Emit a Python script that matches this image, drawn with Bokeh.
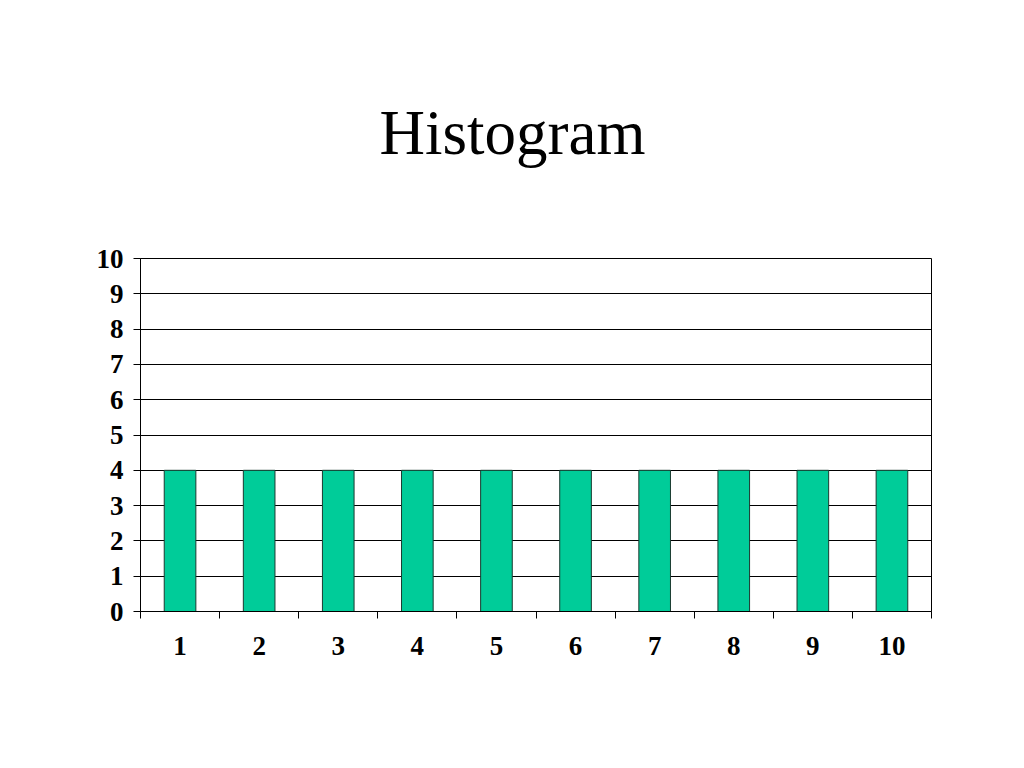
from bokeh.plotting import figure
from bokeh.models import FixedTicker, Range1d
from bokeh.embed import file_html
from bokeh.resources import INLINE

categories = [1, 2, 3, 4, 5, 6, 7, 8, 9, 10]
counts = [4, 4, 4, 4, 4, 4, 4, 4, 4, 4]
y_ticks = [0, 1, 2, 3, 4, 5, 6, 7, 8, 9, 10]
title_text = "Histogram"

p = figure(width=1008, height=752, output_backend="svg", toolbar_location=None,
           x_range=Range1d(0.5, 10.5), y_range=Range1d(0, 10),
           min_border_left=140, min_border_top=258, min_border_right=77, min_border_bottom=141)

p.vbar(x=categories, top=counts, width=0.4, bottom=0,
       fill_color="#00CC99", line_color="#1a3a30", line_width=1)

p.title.text = title_text
p.title.text_font = "Liberation Serif"
p.title.text_font_size = "63px"
p.title.text_font_style = "normal"
p.title.align = "left"
p.title.standoff = 181
p.title.offset = 239
p.title.text_color = "black"

# x axis
xa = p.xaxis[0]
xa.ticker = FixedTicker(ticks=categories, minor_ticks=[c - 0.5 for c in categories] + [10.5])
xa.major_tick_out = 0
xa.major_tick_in = 0
xa.minor_tick_out = 7
xa.minor_tick_in = 0
xa.minor_tick_line_color = "black"
xa.axis_line_color = "black"
xa.major_label_text_font = "Liberation Serif"
xa.major_label_text_font_style = "bold"
xa.major_label_text_font_size = "27px"
xa.major_label_text_color = "black"
xa.major_label_standoff = 18

# y axis
ya = p.yaxis[0]
ya.ticker = FixedTicker(ticks=y_ticks)
ya.major_tick_out = 7
ya.major_tick_in = 0
ya.minor_tick_line_color = None
ya.major_tick_line_color = "black"
ya.axis_line_color = "black"
ya.major_label_text_font = "Liberation Serif"
ya.major_label_text_font_style = "bold"
ya.major_label_text_font_size = "27px"
ya.major_label_text_color = "black"
ya.major_label_standoff = 10

p.xgrid.grid_line_color = None
p.ygrid.grid_line_color = "black"
p.ygrid.grid_line_alpha = 1.0
p.ygrid.grid_line_width = 1
p.outline_line_color = "black"
p.outline_line_alpha = 1.0
p.background_fill_color = "white"
p.border_fill_color = "white"

open("out.html", "w").write(file_html(p, INLINE))
